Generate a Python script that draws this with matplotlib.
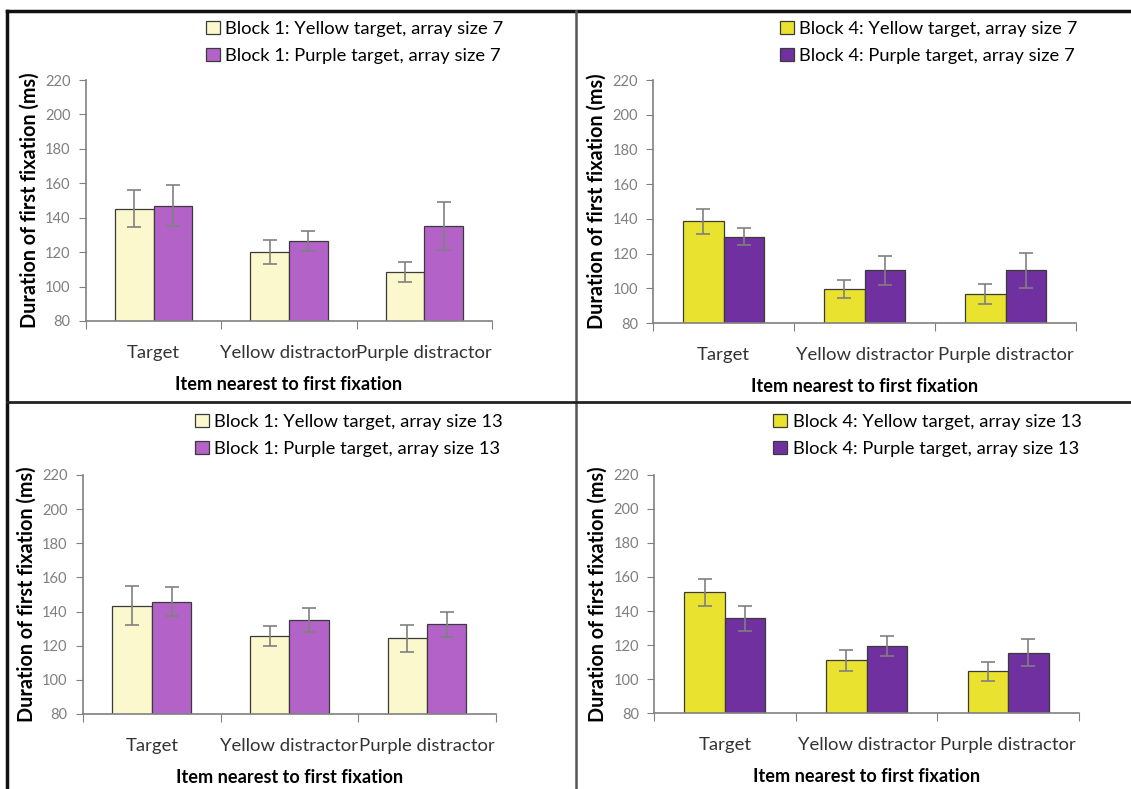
import numpy as np
import matplotlib
matplotlib.use("Agg")
import matplotlib.pyplot as plt
from matplotlib.lines import Line2D

plt.rcParams['font.family'] = ['Lato', 'DejaVu Sans']

# categories on the x axis
categories = ['Target', 'Yellow distractor', 'Purple distractor']

# Block 1, array size 7
b1_s7_yellow = [145.3, 120.1, 108.5]
b1_s7_yellow_err = [10.8, 6.8, 5.7]
b1_s7_purple = [147.0, 126.5, 135.2]
b1_s7_purple_err = [12.1, 6.0, 14.0]

# Block 4, array size 7
b4_s7_yellow = [138.7, 99.7, 96.7]
b4_s7_yellow_err = [7.2, 5.0, 6.0]
b4_s7_purple = [129.7, 110.3, 110.3]
b4_s7_purple_err = [5.0, 8.2, 10.0]

# Block 1, array size 13
b1_s13_yellow = [143.4, 125.6, 124.3]
b1_s13_yellow_err = [11.4, 6.0, 8.1]
b1_s13_purple = [145.7, 135.0, 132.5]
b1_s13_purple_err = [8.5, 6.8, 7.5]

# Block 4, array size 13
b4_s13_yellow = [151.1, 110.9, 104.7]
b4_s13_yellow_err = [8.0, 6.0, 5.6]
b4_s13_purple = [135.8, 119.4, 115.4]
b4_s13_purple_err = [7.3, 5.9, 7.9]

LIGHT_YELLOW = '#FAF8CC'
LIGHT_PURPLE = '#B363C8'
YELLOW = '#E9E22E'
DARK_PURPLE = '#7030A0'
GRAY = '#808080'

fig = plt.figure(figsize=(11.31, 7.89), dpi=100)

panels = [
    # (axes rect, yellow, yerr, purple, perr, colors, legend labels, legend anchor)
    ([0.0760, 0.5932, 0.3590, 0.3054], b1_s7_yellow, b1_s7_yellow_err, b1_s7_purple, b1_s7_purple_err,
     (LIGHT_YELLOW, LIGHT_PURPLE),
     ('Block 1: Yellow target, array size 7', 'Block 1: Purple target, array size 7'), (0.4565, 0.990)),
    ([0.5774, 0.5906, 0.3740, 0.3080], b4_s7_yellow, b4_s7_yellow_err, b4_s7_purple, b4_s7_purple_err,
     (YELLOW, DARK_PURPLE),
     ('Block 4: Yellow target, array size 7', 'Block 4: Purple target, array size 7'), (0.964, 0.990)),
    ([0.0734, 0.0951, 0.3651, 0.3029], b1_s13_yellow, b1_s13_yellow_err, b1_s13_purple, b1_s13_purple_err,
     (LIGHT_YELLOW, LIGHT_PURPLE),
     ('Block 1: Yellow target, array size 13', 'Block 1: Purple target, array size 13'), (0.456, 0.492)),
    ([0.5783, 0.0963, 0.3757, 0.3017], b4_s13_yellow, b4_s13_yellow_err, b4_s13_purple, b4_s13_purple_err,
     (YELLOW, DARK_PURPLE),
     ('Block 4: Yellow target, array size 13', 'Block 4: Purple target, array size 13'), (0.9675, 0.492)),
]

x = np.arange(len(categories))
w = 0.286

for rect, yv, ye, pv, pe, cols, labels, anchor in panels:
    ax = fig.add_axes(rect)
    err_kw = dict(ecolor=GRAY, elinewidth=1.2, capsize=5, capthick=1.2)
    ax.bar(x - w / 2, yv, w, bottom=0, yerr=ye, color=cols[0], edgecolor='#3a3a3a',
           linewidth=0.9, error_kw=err_kw, label=labels[0])
    ax.bar(x + w / 2, pv, w, bottom=0, yerr=pe, color=cols[1], edgecolor='#3a3a3a',
           linewidth=0.9, error_kw=err_kw, label=labels[1])
    ax.set_ylim(80, 220)
    ax.set_xlim(-0.5, 2.5)
    ax.set_yticks(np.arange(80, 221, 20))
    ax.set_xticks([-0.5, 0.5, 1.5, 2.5])
    ax.set_xticklabels([])
    ax.set_xticks(x, minor=True)
    ax.set_xticklabels(categories, minor=True, fontsize=13.3, color='#333333')
    ax.tick_params(axis='x', which='minor', length=0, pad=17)
    ax.tick_params(axis='x', which='major', length=6, color=GRAY, direction='out')
    ax.tick_params(axis='y', length=5, color=GRAY, labelsize=10.5, labelcolor='#7f7f7f', pad=6)
    for s in ['top', 'right']:
        ax.spines[s].set_visible(False)
    for s in ['left', 'bottom']:
        ax.spines[s].set_color(GRAY)
        ax.spines[s].set_linewidth(1.2)
    ax.set_ylabel('Duration of first fixation (ms)', fontsize=14.2, fontweight='bold', labelpad=4)
    ax.set_xlabel('Item nearest to first fixation', fontsize=13.1, fontweight='bold', labelpad=11)
    ax.legend(loc='upper right', bbox_to_anchor=anchor, bbox_transform=fig.transFigure,
              frameon=False, fontsize=13.2, handlelength=0.75, handleheight=0.75,
              handletextpad=0.3, labelspacing=0.6, borderpad=0.2)

# panel frame lines
fig.add_artist(Line2D([0.0066, 1.0], [0.986, 0.986], color='#111111', linewidth=2.5))
fig.add_artist(Line2D([0.0066, 0.0066], [0.0, 0.986], color='#111111', linewidth=2.5))
fig.add_artist(Line2D([0.5093, 0.5093], [0.0, 0.986], color='#555555', linewidth=1.8))
fig.add_artist(Line2D([0.0066, 1.0], [0.4905, 0.4905], color='#222222', linewidth=2.0))

plt.savefig('out.png', dpi=100)
